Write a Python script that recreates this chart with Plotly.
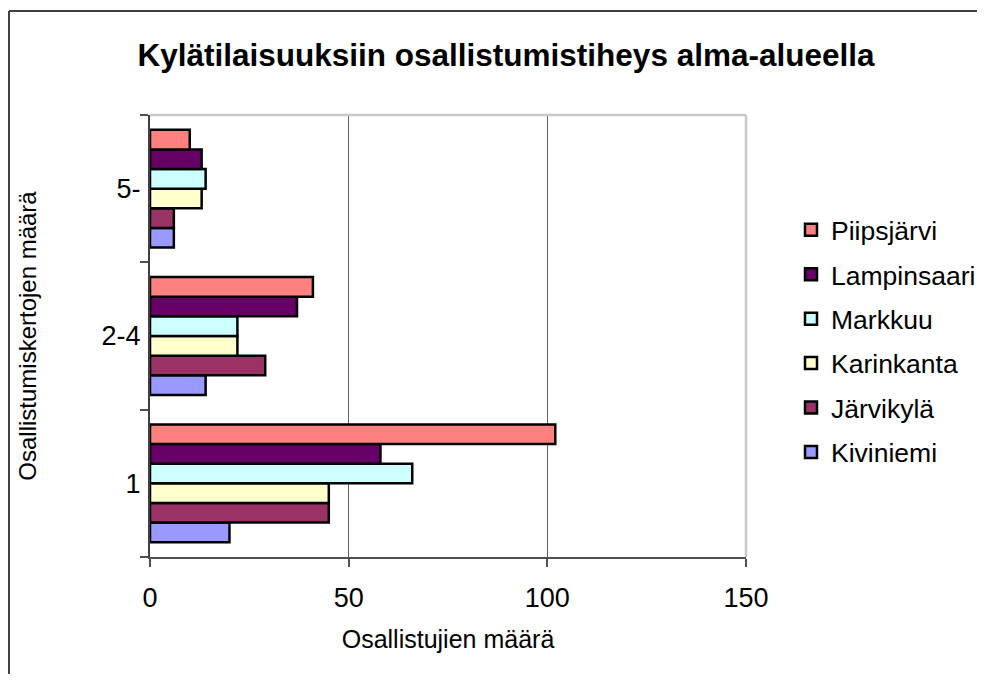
import plotly.graph_objects as go

categories = ["1", "2-4", "5-"]
series_names = ["Kiviniemi", "Järvikylä", "Karinkanta", "Markkuu", "Lampinsaari", "Piipsjärvi"]
kiviniemi = [20, 14, 6]
jarvikyla = [45, 29, 6]
karinkanta = [45, 22, 13]
markkuu = [66, 22, 14]
lampinsaari = [58, 37, 13]
piipsjarvi = [102, 41, 10]
x_ticks = [0, 50, 100, 150]

series_values = [kiviniemi, jarvikyla, karinkanta, markkuu, lampinsaari, piipsjarvi]
colors = ["#9999FF", "#993366", "#FFFFCC", "#CCFFFF", "#660066", "#FF8080"]

FONT = "Arial, Liberation Sans, sans-serif"

fig = go.Figure()
n = len(series_names)
for i, (name, vals, col) in enumerate(zip(series_names, series_values, colors)):
    fig.add_trace(go.Bar(
        y=categories, x=vals, name=name, orientation="h",
        marker=dict(color=col, line=dict(color="black", width=2.5)),
        legendgroup=name, legendrank=n - i,
    ))

# page body adds an 8px margin, so the figure origin sits at (8, 8) on screen;
# keep the figure inside the window so no scrollbars appear
W, H = 969, 666
ML, MT, PW, PH = 142, 107, 596, 442

fig.update_layout(
    width=W, height=H,
    margin=dict(l=ML, r=W - ML - PW, t=MT, b=H - MT - PH),
    paper_bgcolor="white", plot_bgcolor="white",
    barmode="group", bargap=0.2, bargroupgap=0,
    font=dict(family=FONT, color="black", size=27),
    title=dict(
        text="<b>Kylätilaisuuksiin osallistumistiheys alma-alueella</b>",
        x=498 / W, xref="container", xanchor="center",
        y=1 - 47 / H, yref="container", yanchor="middle",
        font=dict(size=31.5, family=FONT, color="black"),
    ),
    legend=dict(
        x=783 / W, xref="container", xanchor="left",
        y=1 - 198 / H, yref="container", yanchor="top",
        traceorder="grouped", tracegroupgap=7,
        font=dict(size=26.5, family=FONT, color="black"),
        bgcolor="rgba(0,0,0,0)",
    ),
    xaxis=dict(
        range=[0, 150], tickvals=x_ticks, ticktext=[str(v) for v in x_ticks],
        showgrid=True, gridcolor="#606060", gridwidth=1,
        showline=True, linecolor="#505050", linewidth=2,
        ticks="outside", ticklen=8, tickwidth=2, tickcolor="#505050",
        tickfont=dict(size=27), zeroline=False, ticklabelstandoff=8,
        title=dict(text="Osallistujien määrä", font=dict(size=25), standoff=18),
    ),
    yaxis=dict(
        type="category", categoryorder="array", categoryarray=categories,
        showgrid=False, showline=True, linecolor="#404040", linewidth=2,
        ticks="outside", ticklen=8, tickwidth=2, tickcolor="#505050",
        tickson="boundaries", tickfont=dict(size=27), ticklabelstandoff=2,
        title=dict(text="Osallistumiskertojen määrä", font=dict(size=24), standoff=58),
    ),
    shapes=[
        # light grey plot-area border (top and right)
        dict(type="line", xref="paper", yref="paper", x0=0, x1=1, y0=1, y1=1,
             line=dict(color="#C8C8C8", width=2.5), layer="above"),
        dict(type="line", xref="paper", yref="paper", x0=1, x1=1, y0=0, y1=1,
             line=dict(color="#C8C8C8", width=2.5), layer="above"),
        # outer chart frame (left and top)
        dict(type="line", xref="paper", yref="paper", x0=-0.2366, x1=-0.2366, y0=-0.33, y1=1.2353,
             line=dict(color="#404040", width=2)),
        dict(type="line", xref="paper", yref="paper", x0=-0.2366, x1=1.45, y0=1.2353, y1=1.2353,
             line=dict(color="#404040", width=2)),
    ],
)

fig.write_html("out.html")
